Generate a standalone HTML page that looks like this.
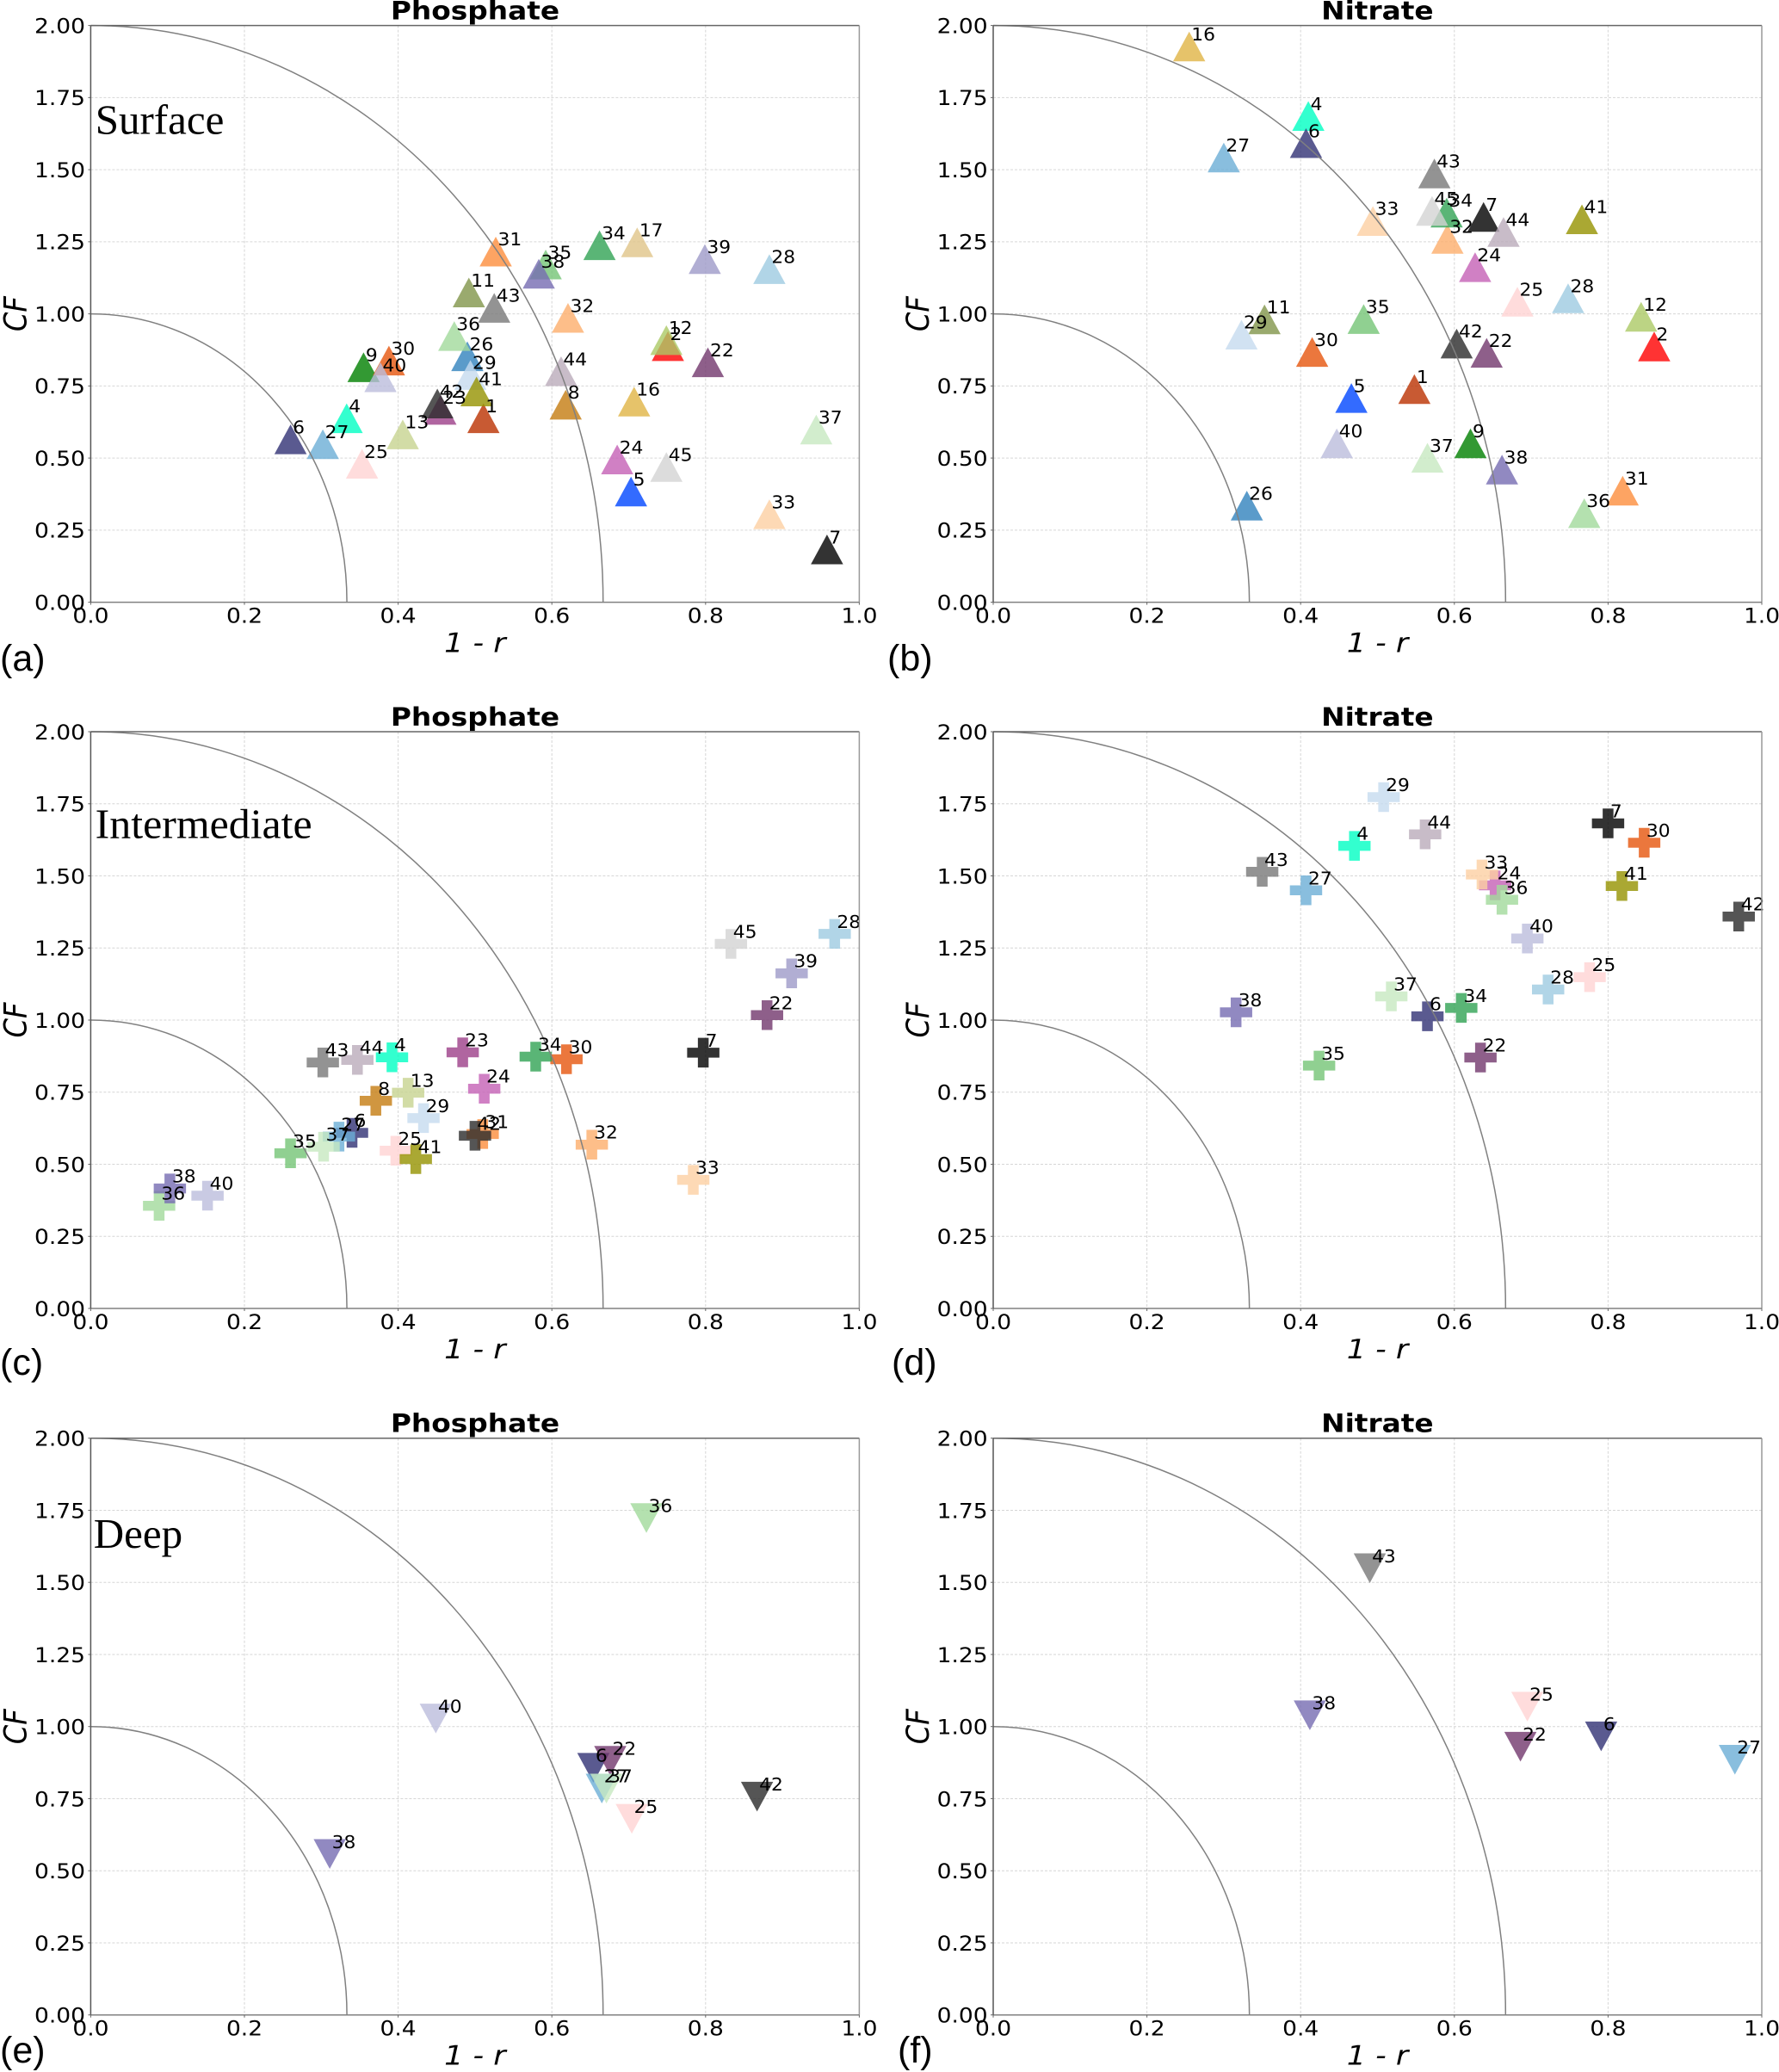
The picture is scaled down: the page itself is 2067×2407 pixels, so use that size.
<!DOCTYPE html>
<html lang="en">
<head>
<meta charset="utf-8">
<title>Phosphate and Nitrate CF versus 1 - r by depth</title>
<style>
html,body{margin:0;padding:0;background:#fff;width:2067px;height:2407px;overflow:hidden}
svg{display:block}
.title{font:bold 32.8px "DejaVu Sans",sans-serif;text-anchor:middle}
.depth{font-family:"Liberation Serif",serif;font-size:49px}
.letter{font-family:"Liberation Sans",sans-serif;font-size:43px}
.axis{font:italic 35px "DejaVu Sans",sans-serif;text-anchor:middle}
.tick{font:26.5px "DejaVu Sans",sans-serif}
.pt{font:21.8px "DejaVu Sans",sans-serif}
</style>
</head>
<body>
<svg id="figure" xmlns="http://www.w3.org/2000/svg" width="2067" height="2407" viewBox="0 0 2067 2407">
  <rect width="2067" height="2407" fill="#fff"/>
  <g id="panel-a"></g>
  <g id="panel-b"></g>
  <g id="panel-c"></g>
  <g id="panel-d"></g>
  <g id="panel-e"></g>
  <g id="panel-f"></g>

  <text class="title" transform="translate(552,22.6) scale(1,.9)">Phosphate</text>
  <text class="title" transform="translate(1600.4,22.6) scale(1,.9)">Nitrate</text>
  <text class="title" transform="translate(552,843) scale(1,.9)">Phosphate</text>
  <text class="title" transform="translate(1600.4,843) scale(1,.9)">Nitrate</text>
  <text class="title" transform="translate(552,1663.7) scale(1,.9)">Phosphate</text>
  <text class="title" transform="translate(1600.4,1663.7) scale(1,.9)">Nitrate</text>

  <text class="depth" x="110.7" y="155.6">Surface</text>
  <text class="depth" x="110.7" y="973.5" textLength="252" lengthAdjust="spacingAndGlyphs">Intermediate</text>
  <text class="depth" x="108.7" y="1798">Deep</text>

  <text class="letter" x="0" y="779">(a)</text>
  <text class="letter" x="1031" y="779">(b)</text>
  <text class="letter" x="0" y="1597">(c)</text>
  <text class="letter" x="1036" y="1597">(d)</text>
  <text class="letter" x="0" y="2396">(e)</text>
  <text class="letter" x="1043" y="2396">(f)</text>
</svg>
<script>
// ---- chart data -------------------------------------------------------
const xTickLabels = ['0.0','0.2','0.4','0.6','0.8','1.0'];
const yTickLabels = ['0.00','0.25','0.50','0.75','1.00','1.25','1.50','1.75','2.00'];
const refCorrelation = [1/3, 2/3];
const refCF = [1, 2];

const aIds = ['1','2','4','5','6','7','8','9','11','12','13','16','17','22','23','24','25','26','27','28','29','30','31','32','33','34','35','36','37','38','39','40','41','42','43','44','45'];
const aX = [.511,.751,.333,.703,.260,.958,.618,.355,.492,.749,.406,.707,.711,.803,.455,.685,.353,.490,.302,.883,.494,.388,.527,.621,.883,.662,.592,.473,.944,.583,.799,.377,.502,.451,.525,.612,.749];
const aCF = [.638,.888,.638,.384,.565,.183,.685,.815,1.074,.909,.582,.696,1.248,.832,.667,.495,.480,.853,.548,1.155,.788,.838,1.216,.986,.305,1.238,1.171,.923,.599,1.139,1.190,.780,.731,.689,1.021,.801,.469];

const bIds = ['1','2','4','5','6','7','9','11','12','16','22','24','25','26','27','28','29','30','31','32','33','34','35','36','37','38','40','41','42','43','44','45'];
const bX = [.548,.860,.410,.466,.407,.638,.621,.353,.843,.255,.642,.627,.682,.330,.300,.748,.323,.415,.819,.591,.494,.590,.482,.769,.565,.662,.447,.766,.603,.574,.664,.571];
const bCF = [.739,.887,1.686,.708,1.592,1.336,.551,.981,.990,1.927,.865,1.162,1.042,.335,1.542,1.054,.928,.868,.387,1.260,1.322,1.351,.982,.309,.501,.460,.551,1.328,.897,1.487,1.284,1.357];

const cIds = ['4','6','7','8','13','22','23','24','25','27','28','29','30','31','32','33','34','35','36','37','38','39','40','41','42','43','44','45'];
const cX = [.392,.340,.797,.371,.413,.880,.484,.512,.397,.323,.968,.433,.619,.510,.652,.784,.579,.260,.089,.303,.103,.912,.152,.423,.500,.302,.347,.833];
const cCF = [.871,.609,.887,.720,.748,1.017,.888,.762,.547,.596,1.299,.660,.864,.605,.568,.446,.873,.538,.356,.561,.416,1.162,.391,.518,.599,.853,.862,1.264];

const dIds = ['4','6','7','22','24','25','27','28','29','30','33','34','35','36','37','38','40','41','42','43','44'];
const dX = [.470,.565,.800,.634,.653,.776,.407,.722,.508,.847,.636,.609,.424,.662,.518,.316,.695,.818,.970,.350,.562];
const dCF = [1.604,1.013,1.682,.870,1.467,1.149,1.450,1.106,1.773,1.615,1.505,1.042,.842,1.417,1.082,1.027,1.283,1.465,1.359,1.514,1.644];

const eIds = ['6','22','25','27','36','37','38','40','42'];
const eX = [.654,.676,.704,.665,.723,.671,.311,.449,.867];
const eCF = [.857,.881,.680,.785,1.723,.785,.558,1.028,.757];

const fIds = ['6','22','25','27','38','43'];
const fX = [.791,.686,.695,.965,.412,.490];
const fCF = [.966,.930,1.069,.885,1.039,1.549];

const modelColors = {
  '1':'#ba3100','2':'#ff0000','4':'#00ffc3','5':'#0046ff','6':'#313174','7':'#000000','8':'#c47c10','9':'#008000',
  '11':'#81954a','12':'#abc965','13':'#c7d390','16':'#e0b445','17':'#e0c488','22':'#72376d','23':'#9c3f88','24':'#c460b5',
  '25':'#ffd3d3','26':'#3182bd','27':'#6baed6','28':'#9ecae1','29':'#c6dbef','30':'#e6550d','31':'#fd8d3c','32':'#fdae6b',
  '33':'#fdd0a2','34':'#31a354','35':'#74c476','36':'#a1d99b','37':'#c7e9c0','38':'#756bb1','39':'#9e9ac8','40':'#bcbddc',
  '41':'#959200','42':'#2b2b2b','43':'#787878','44':'#baabba','45':'#d3d3d3'
};

// ---- rendering --------------------------------------------------------
const NS = 'http://www.w3.org/2000/svg';
const W = 893, H = 670;
const MW = 18.75, MH = 17.25;

function make(parent, tag, attrs, name, clickable) {
  const el = document.createElementNS(NS, tag);
  for (const k in attrs) el.setAttribute(k, attrs[k]);
  
  
  parent.appendChild(el);
  return el;
}

function markerPoints(shape, cx, cy) {
  if (shape === 'up') return [[cx,cy-MH],[cx+MW,cy+MH],[cx-MW,cy+MH]];
  if (shape === 'down') return [[cx,cy+MH],[cx+MW,cy-MH],[cx-MW,cy-MH]];
  const a = MW/3, b = MH/3;
  return [[cx-a,cy-MH],[cx+a,cy-MH],[cx+a,cy-b],[cx+MW,cy-b],[cx+MW,cy+b],[cx+a,cy+b],[cx+a,cy+MH],[cx-a,cy+MH],[cx-a,cy+b],[cx-MW,cy+b],[cx-MW,cy-b],[cx-a,cy-b]];
}

function drawPanel(id, left, top, shape, ids, xs, cfs) {
  const root = document.getElementById(id);
  const sx = v => left + v * W;
  const sy = v => top + H - v / 2 * H;
  const bottom = sy(0), right = sx(1);

  make(root, 'rect', {x:left, y:top, width:W, height:H, fill:'#fff'}, 'plot-area', false);

  const grid = make(root, 'g', {stroke:'#d6d6d6','stroke-width':1,'stroke-dasharray':'3 2',fill:'none'}, 'grid', false);
  xTickLabels.forEach(t => {
    const v = parseFloat(t);
    if (v > 0 && v < 1) make(grid, 'line', {x1:sx(v),x2:sx(v),y1:top,y2:bottom}, 'grid-line-x', false);
  });
  yTickLabels.forEach(t => {
    const v = parseFloat(t);
    if (v > 0 && v < 2) make(grid, 'line', {x1:left,x2:right,y1:sy(v),y2:sy(v)}, 'grid-line-y', false);
  });

  const marks = make(root, 'g', {}, 'markers', false);
  ids.forEach((m, i) => {
    const pts = markerPoints(shape, sx(xs[i]), sy(cfs[i])).map(p => p[0].toFixed(2)+','+p[1].toFixed(2)).join(' ');
    make(marks, 'polygon', {points:pts, fill:modelColors[m], 'fill-opacity':.8}, 'marker-model-'+m, false);
  });

  refCorrelation.forEach((r, i) => {
    const c = refCF[i];
    const rx = sx(r) - sx(0), ry = sy(0) - sy(c);
    make(root, 'path', {d:'M'+sx(0)+' '+sy(c)+' A'+rx+' '+ry+' 0 0 1 '+sx(r)+' '+sy(0), fill:'none', stroke:'#808080','stroke-width':1.5}, 'reference-arc-'+(i+1), false);
  });

  const labels = make(root, 'g', {}, 'marker-labels', false);
  ids.forEach((m, i) => {
    const t = make(labels, 'text', {class:'pt', transform:'translate('+(sx(xs[i])+2.5)+','+(sy(cfs[i])-7)+') scale(1,.92)'}, 'label-model-'+m, false);
    t.textContent = m;
  });

  make(root, 'line', {x1:left,x2:right,y1:top,y2:top,stroke:'#666','stroke-width':1.5}, 'spine-top', false);
  make(root, 'line', {x1:right,x2:right,y1:top,y2:bottom,stroke:'#999','stroke-width':1.5}, 'spine-right', false);
  make(root, 'line', {x1:left,x2:right,y1:bottom,y2:bottom,stroke:'#808080','stroke-width':1.5}, 'spine-bottom', false);
  make(root, 'line', {x1:left,x2:left,y1:top,y2:bottom,stroke:'#555','stroke-width':1.5}, 'spine-left', false);

  xTickLabels.forEach(t => {
    const v = parseFloat(t);
    make(root, 'line', {x1:sx(v),x2:sx(v),y1:bottom,y2:bottom+3,stroke:'#666','stroke-width':1}, 'x-tick', false);
    const el = make(root, 'text', {class:'tick','text-anchor':'middle',transform:'translate('+sx(v)+','+(bottom+23.8)+') scale(1,.9)'}, 'x-tick-label', false);
    el.textContent = t;
  });
  yTickLabels.forEach(t => {
    const v = parseFloat(t);
    make(root, 'line', {x1:left-3,x2:left,y1:sy(v),y2:sy(v),stroke:'#666','stroke-width':1}, 'y-tick', false);
    const el = make(root, 'text', {class:'tick','text-anchor':'end',transform:'translate('+(left-6.4)+','+(sy(v)+8.8)+') scale(1,.9)'}, 'y-tick-label', false);
    el.textContent = t;
  });

  const xl = make(root, 'text', {class:'axis',transform:'translate('+(left+W/2)+','+(bottom+58)+') scale(1,.9)'}, 'x-axis-title', false);
  xl.textContent = '1 - r';
  const yl = make(root, 'text', {class:'axis',transform:'translate('+(left-75)+','+(top+H/2)+') rotate(-90) scale(.92,1.05)'}, 'y-axis-title', false);
  yl.textContent = 'CF';
}

const col1 = 105.4, col2 = 1154.0;
const row1 = 29.6, row2 = 850, row3 = 1670.7;
drawPanel('panel-a', col1, row1, 'up', aIds, aX, aCF);
drawPanel('panel-b', col2, row1, 'up', bIds, bX, bCF);
drawPanel('panel-c', col1, row2, 'plus', cIds, cX, cCF);
drawPanel('panel-d', col2, row2, 'plus', dIds, dX, dCF);
drawPanel('panel-e', col1, row3, 'down', eIds, eX, eCF);
drawPanel('panel-f', col2, row3, 'down', fIds, fX, fCF);
</script>
</body>
</html>
